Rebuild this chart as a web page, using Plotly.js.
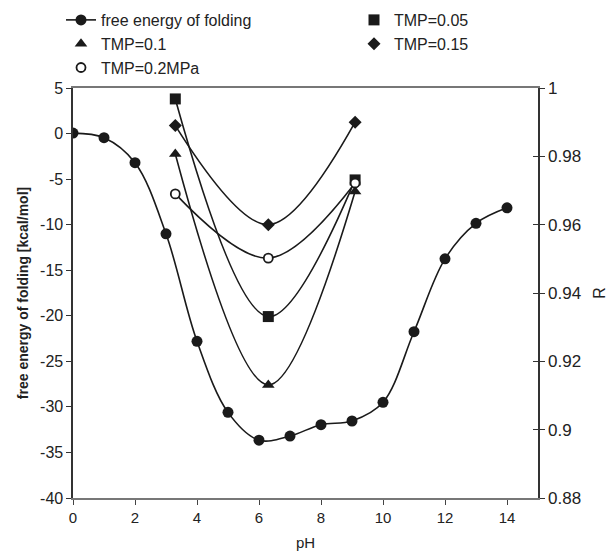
<!DOCTYPE html>
<html>
<head>
<meta charset="utf-8">
<script src="https://cdn.plot.ly/plotly-3.0.1.min.js"></script>
<style>html,body{margin:0;padding:0;background:#fff;}#chart{width:610px;height:553px;}</style>
</head>
<body>
<div id="chart"></div>
<script>
// Free energy of folding vs pH (left axis)
const phValues = [0, 1, 2, 3, 4, 5, 6, 7, 8, 9, 10, 11, 12, 13, 14];
const freeEnergy = [0.05, -0.45, -3.2, -11.0, -22.8, -30.6, -33.65, -33.2, -31.95, -31.55, -29.5, -21.75, -13.75, -9.85, -8.15];

// R vs pH (right axis)
const tmpPh = [3.3, 6.3, 9.1];
const tmp005 = [0.9968, 0.9331, 0.9731];
const tmp010 = [0.9807, 0.9131, 0.9697];
const tmp015 = [0.9890, 0.9600, 0.9900];
const tmp020 = [0.9690, 0.9502, 0.9722];

const seriesNames = ["free energy of folding", "TMP=0.05", "TMP=0.1", "TMP=0.15", "TMP=0.2MPa"];

// tick labels
const xTicks = [0, 2, 4, 6, 8, 10, 12, 14];
const yLeftTicks = [-40, -35, -30, -25, -20, -15, -10, -5, 0, 5];
const yLeftLabels = ["-40", "-35", "-30", "-25", "-20", "-15", "-10", "-5", "0", "5"];
const yRightTicks = [0.88, 0.9, 0.92, 0.94, 0.96, 0.98, 1];
const yRightLabels = ["0.88", "0.9", "0.92", "0.94", "0.96", "0.98", "1"];

const ink = "#1a1a1a";
const lineStyle = {color: ink, width: 1.6, shape: "spline", smoothing: 1};

const tmpSeries = [
  {name: seriesNames[1], y: tmp005, symbol: "square", size: 11, legend: "legend2"},
  {name: seriesNames[2], y: tmp010, symbol: "triangle-up", size: 11, legend: "legend"},
  {name: seriesNames[3], y: tmp015, symbol: "diamond", size: 10, legend: "legend2"},
  {name: seriesNames[4], y: tmp020, symbol: "open", size: 9, legend: "legend"}
];

const traces = [];
traces.push({
  x: phValues, y: freeEnergy, name: seriesNames[0], type: "scatter", mode: "lines+markers",
  line: lineStyle, marker: {symbol: "circle", size: 11, color: ink},
  yaxis: "y", legend: "legend"
});
tmpSeries.forEach(s => {
  traces.push({
    x: tmpPh, y: s.y, type: "scatter", mode: "lines", line: lineStyle,
    showlegend: false, hoverinfo: "skip", yaxis: "y2"
  });
});
tmpSeries.forEach(s => {
  const open = s.symbol === "open";
  traces.push({
    x: tmpPh, y: s.y, name: s.name, type: "scatter", mode: "markers",
    marker: {symbol: open ? "circle" : s.symbol, size: s.size, color: open ? "#ffffff" : ink,
             line: {color: ink, width: open ? 1.8 : 0}},
    yaxis: "y2", legend: s.legend
  });
});

const fontFam = "Liberation Sans, Arial, sans-serif";
const legendBase = {
  orientation: "v", xanchor: "left", yanchor: "top",
  xref: "paper", yref: "container",
  font: {family: fontFam, size: 16, color: "#222"},
  bgcolor: "rgba(0,0,0,0)", itemclick: false, tracegroupgap: 0
};
const layout = {
  width: 610, height: 553,
  margin: {l: 73, r: 72, t: 88, b: 55, autoexpand: false},
  paper_bgcolor: "#ffffff", plot_bgcolor: "#ffffff",
  font: {family: fontFam, color: "#222", size: 15},
  showlegend: true,
  legend: Object.assign({}, legendBase, {x: -0.0258, y: 0.9946}),
  legend2: Object.assign({}, legendBase, {x: 0.6043, y: 0.9946}),
  xaxis: {
    range: [0, 15], tickvals: xTicks,
    ticks: "outside", ticklen: 5, tickcolor: "#444", tickwidth: 1,
    showline: true, linecolor: "#777", linewidth: 2, mirror: true,
    showgrid: false, zeroline: false,
    tickfont: {size: 15, color: "#222"},
    title: {text: "pH", font: {size: 15, color: "#222"}, standoff: 12},
    automargin: false
  },
  yaxis: {
    range: [-40, 5], tickvals: yLeftTicks, ticktext: yLeftLabels,
    ticks: "outside", ticklen: 5, tickcolor: "#333", tickwidth: 1,
    showline: true, linecolor: "#333", linewidth: 1.6,
    showgrid: false, zeroline: false,
    tickfont: {size: 16, color: "#222"},
    title: {text: "<b>free energy of folding [kcal/mol]</b>", font: {size: 14, color: "#222"}, standoff: 8},
    automargin: false
  },
  yaxis2: {
    range: [0.88, 1], tickvals: yRightTicks, ticktext: yRightLabels,
    overlaying: "y", side: "right",
    ticks: "outside", ticklen: 5, tickcolor: "#333", tickwidth: 1,
    showline: true, linecolor: "#333", linewidth: 1.6,
    showgrid: false, zeroline: false,
    tickfont: {size: 17, color: "#222"},
    title: {text: "R", font: {size: 16, color: "#222"}, standoff: 14},
    automargin: false
  },
  yaxis3: {
    range: [0.88, 1], tickvals: yRightTicks,
    overlaying: "y", side: "right", anchor: "x",
    ticks: "inside", ticklen: 5, tickcolor: "#333", tickwidth: 1,
    showticklabels: false, showline: false, showgrid: false, zeroline: false
  }
};
// invisible trace so the inner tick marks of the right axis are drawn
traces.push({x: [0], y: [0.9], yaxis: "y3", mode: "markers", marker: {opacity: 0}, showlegend: false, hoverinfo: "skip"});

Plotly.newPlot("chart", traces, layout, {staticPlot: true, displayModeBar: false});
</script>
</body>
</html>
